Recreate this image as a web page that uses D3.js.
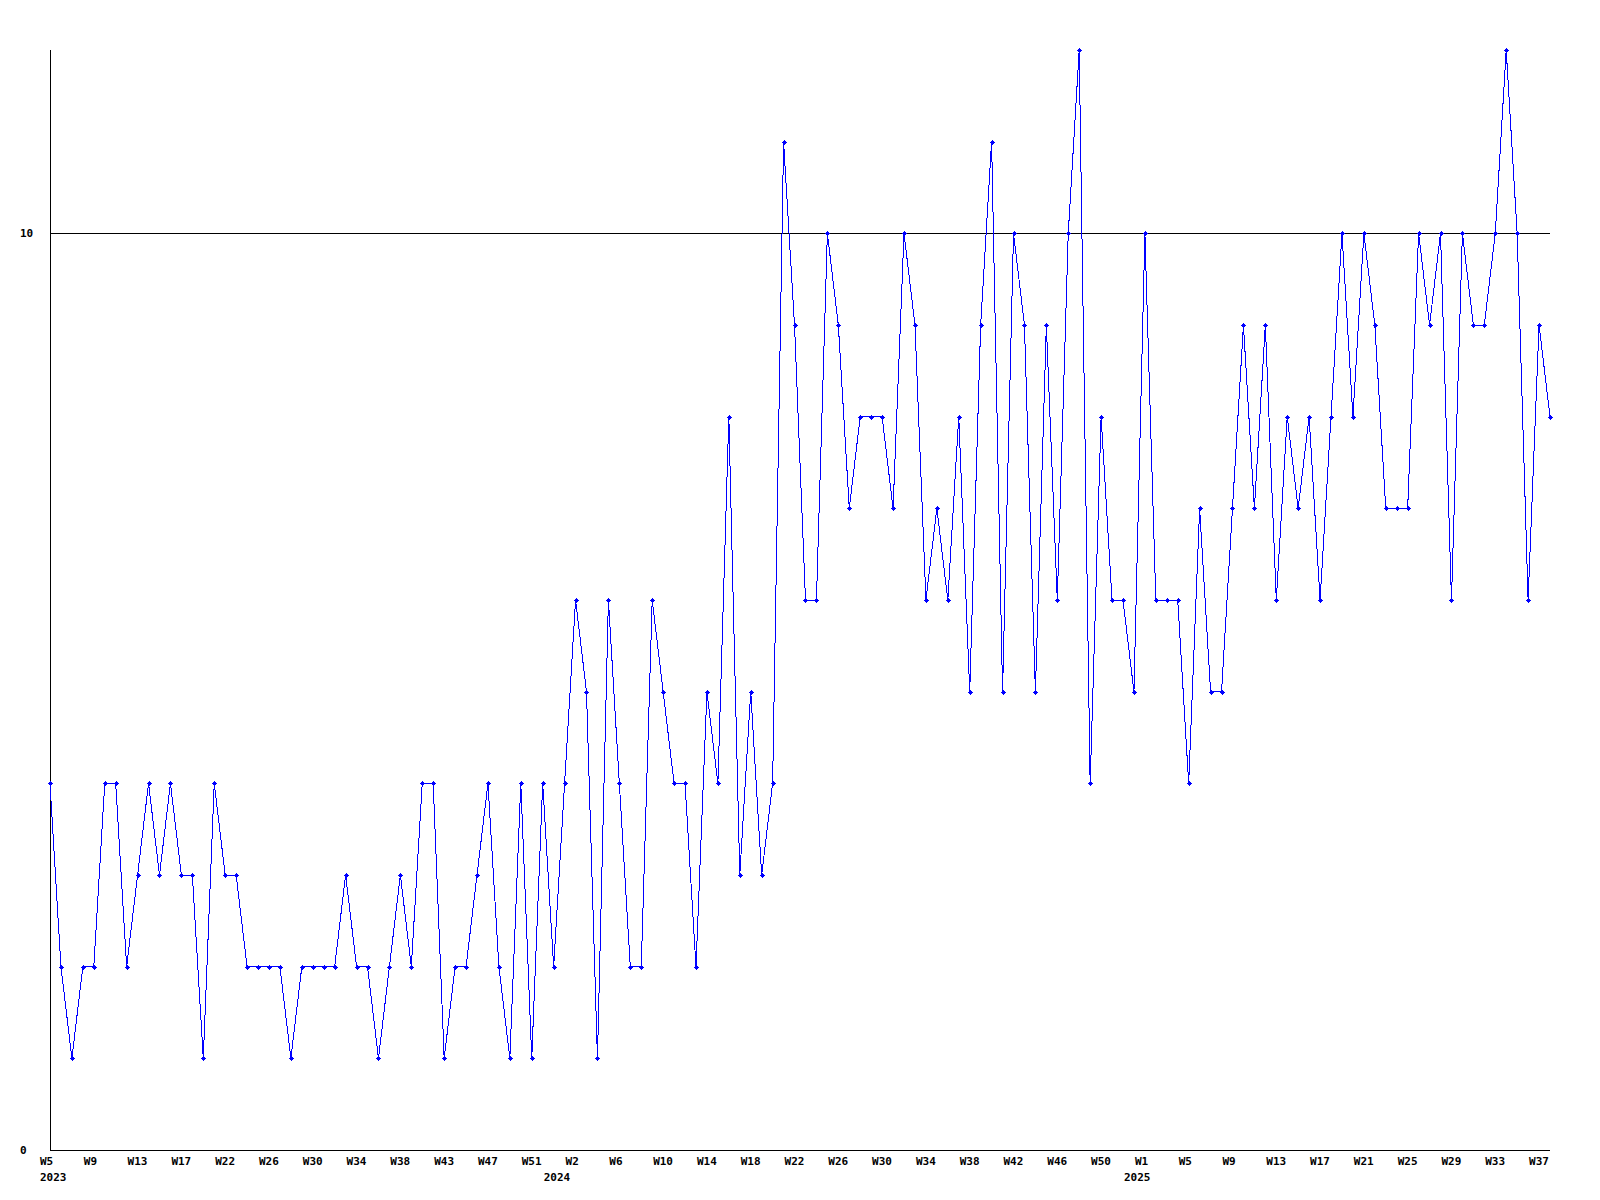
<!DOCTYPE html>
<html lang="en">
  <head>
    <meta charset="utf-8">
    <title>Weekly count</title>
    <script src="https://cdnjs.cloudflare.com/ajax/libs/d3/7.8.5/d3.min.js"></script>
    <style type="text/css">
    body { margin: 0; background: #fff; }
    text { font-family: "DejaVu Sans Mono", "Liberation Mono", monospace; font-weight: bold; font-size: 11px; fill: #000; }
    </style>
  </head>
  <body>
    <script type="text/javascript">
    // one value per point
    var values = [
      4, 2, 1, 2, 2, 4, 4, 2, 3, 4, 3, 4, 3, 3, 1, 4, 3, 3, 2, 2,
      2, 2, 1, 2, 2, 2, 2, 3, 2, 2, 1, 2, 3, 2, 4, 4, 1, 2, 2, 3,
      4, 2, 1, 4, 1, 4, 2, 4, 6, 5, 1, 6, 4, 2, 2, 6, 5, 4, 4, 2,
      5, 4, 8, 3, 5, 3, 4, 11, 9, 6, 6, 10, 9, 7, 8, 8, 8, 7, 10, 9,
      6, 7, 6, 8, 5, 9, 11, 5, 10, 9, 5, 9, 6, 10, 12, 4, 8, 6, 6, 5,
      10, 6, 6, 6, 4, 7, 5, 5, 7, 9, 7, 9, 6, 8, 7, 8, 6, 8, 10, 8,
      10, 9, 7, 7, 7, 10, 9, 10, 6, 10, 9, 9, 10, 12, 10, 6, 9, 8
    ];

    // week labels, one every 4 points
    var tickLabels = [
      "W5", "W9", "W13", "W17", "W22", "W26", "W30", "W34", "W38", "W43", "W47", "W51",
      "W2", "W6", "W10", "W14", "W18", "W22", "W26", "W30", "W34", "W38", "W42", "W46", "W50",
      "W1", "W5", "W9", "W13", "W17", "W21", "W25", "W29", "W33", "W37"
    ];
    var tickEvery = 4;

    // year labels and the first point of each year
    var yearLabels = ["2023", "2024", "2025"];
    var yearStart = [0, 46, 99];

    var yTicks = [0, 10];
    var yMax = 12;

    var w = 1600;
    var h = 1200;

    var svg = d3.select("body")
      .append("svg")
      .attr("width", w)
      .attr("height", h);

    var x = d3.scaleLinear()
      .domain([0, values.length - 1])
      .range([50, 1550]);

    var y = d3.scaleLinear()
      .domain([0, yMax])
      .range([1150, 50]);

    // gridline at 10
    svg.selectAll("line.grid")
      .data(yTicks.filter(function(d) { return d > 0; }))
      .enter()
      .append("line")
      .attr("class", "grid")
      .attr("x1", x(0))
      .attr("x2", x(values.length - 1))
      .attr("y1", function(d) { return Math.round(y(d)) + 0.5; })
      .attr("y2", function(d) { return Math.round(y(d)) + 0.5; })
      .attr("stroke", "#000")
      .attr("shape-rendering", "crispEdges");

    // y axis labels
    svg.selectAll("text.ylab")
      .data(yTicks)
      .enter()
      .append("text")
      .attr("class", "ylab")
      .attr("x", 20)
      .attr("y", function(d) { return y(d) + 4; })
      .text(function(d) { return d; });

    // axis lines
    svg.append("line")
      .attr("x1", x(0) + 0.5).attr("x2", x(0) + 0.5)
      .attr("y1", y(yMax)).attr("y2", y(0) + 1)
      .attr("stroke", "#000")
      .attr("shape-rendering", "crispEdges");

    svg.append("line")
      .attr("x1", x(0)).attr("x2", x(values.length - 1))
      .attr("y1", y(0) + 0.5).attr("y2", y(0) + 0.5)
      .attr("stroke", "#000")
      .attr("shape-rendering", "crispEdges");

    // the series
    var line = d3.line()
      .x(function(d, i) { return x(i); })
      .y(function(d) { return y(d); });

    svg.append("path")
      .datum(values)
      .attr("d", line)
      .attr("fill", "none")
      .attr("stroke", "#0000ff")
      .attr("stroke-width", 1)
      .attr("shape-rendering", "crispEdges");

    // small plus markers
    svg.selectAll("path.mark")
      .data(values)
      .enter()
      .append("path")
      .attr("class", "mark")
      .attr("transform", function(d, i) {
        return "translate(" + Math.round(x(i)) + "," + Math.round(y(d)) + ")";
      })
      .attr("d", "M-2,0H3V1H-2Z M0,-2H1V3H0Z M-1,-1H2V2H-1Z")
      .attr("fill", "#0000ff")
      .attr("shape-rendering", "crispEdges");

    // x axis week labels
    svg.selectAll("text.week")
      .data(tickLabels)
      .enter()
      .append("text")
      .attr("class", "week")
      .attr("x", function(d, i) { return x(i * tickEvery) - 10; })
      .attr("y", 1165)
      .text(function(d) { return d; });

    // year labels
    svg.selectAll("text.year")
      .data(yearLabels)
      .enter()
      .append("text")
      .attr("class", "year")
      .attr("x", function(d, i) { return x(yearStart[i]) - 10; })
      .attr("y", 1181)
      .text(function(d) { return d; });
    </script>
  </body>
</html>
